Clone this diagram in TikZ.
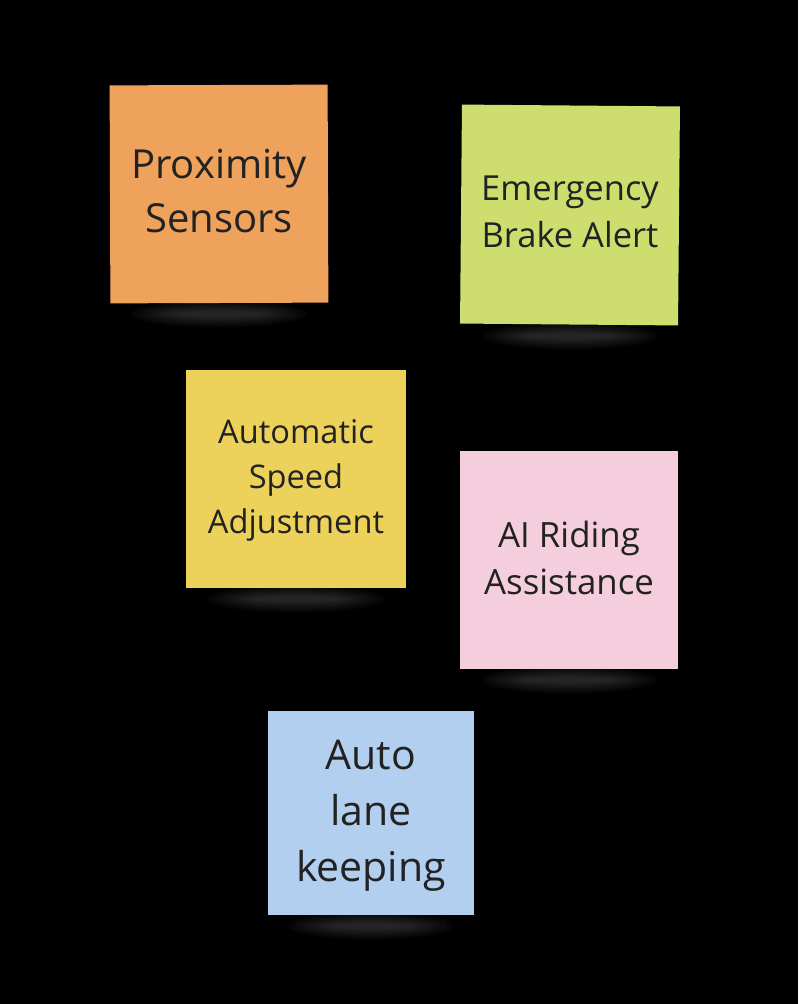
\documentclass[tikz,border=0pt]{standalone}
\usepackage{fontspec}
\setmainfont{Open Sans}
\definecolor{cOrange}{HTML}{EFA25B}
\definecolor{cGreen}{HTML}{CEDE6E}
\definecolor{cYellow}{HTML}{ECD25A}
\definecolor{cPink}{HTML}{F4CEDD}
\definecolor{cBlue}{HTML}{B3CFF0}
\definecolor{cText}{HTML}{222222}
\tikzset{
  note/.style={rectangle, inner sep=0pt, align=center, text=cText, draw=none},
  notetext/.style={align=center, text=cText, inner sep=0pt},
  shadowblob/.style={fill=white, opacity=0.025}
}
\newcommand{\noteshadow}[3]{%
  \foreach \k in {1,...,7}{%
    \fill[shadowblob] (#1,#2) ellipse ({#3*0.5-\k*7pt} and {15pt-\k*1.7pt});
  }%
}
\begin{document}
\begin{tikzpicture}[x=1pt,y=-1pt]
\fill[black] (0,0) rectangle (798,1004);
\useasboundingbox (0,0) rectangle (798,1004);
% shadows
\noteshadow{219}{314}{190}
\noteshadow{570}{336}{190}
\noteshadow{296}{599}{190}
\noteshadow{569}{680}{190}
\noteshadow{371}{926}{180}
% notes
\node[note, fill=cOrange, minimum width=218pt, minimum height=218pt, rotate=0.2] (n1) at (219,194) {};
\node[notetext, font=\fontsize{40}{54}\selectfont] (t1) at ([yshift=3pt]n1.center) {Proximity\\Sensors};
\node[note, fill=cGreen, minimum width=218pt, minimum height=219pt, rotate=-0.5] (n2) at (570,215) {};
\node[notetext, font=\fontsize{34.5}{47}\selectfont] (t2) at ([yshift=3pt]n2.center) {Emergency\\Brake Alert};
\node[note, fill=cYellow, minimum width=220pt, minimum height=218pt] (n3) at (296,479) {};
\node[notetext, font=\fontsize{32.6}{45}\selectfont] (t3) at ([yshift=-1pt]n3.center) {Automatic\\Speed\\Adjustment};
\node[note, fill=cPink, minimum width=218pt, minimum height=218pt] (n4) at (569,560) {};
\node[notetext, font=\fontsize{34.8}{47}\selectfont] (t4) at ([yshift=2pt]n4.center) {AI Riding\\Assistance};
\node[note, fill=cBlue, minimum width=206pt, minimum height=204pt] (n5) at (371,813) {};
\node[notetext, font=\fontsize{41}{56}\selectfont] (t5) at ([yshift=-3pt]n5.center) {Auto\\lane\\keeping};
\end{tikzpicture}
\end{document}
